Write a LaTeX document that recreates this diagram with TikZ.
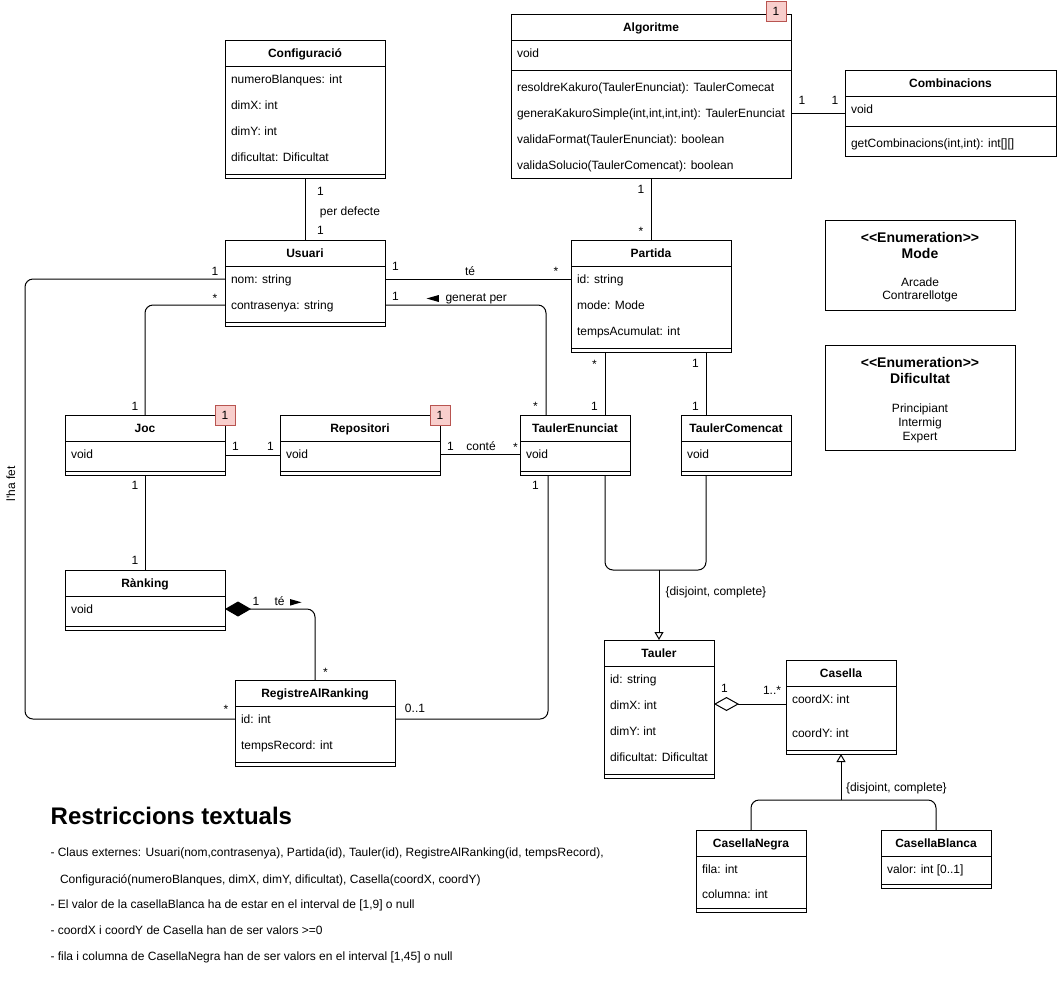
\documentclass[tikz,border=0pt]{standalone}
\usepackage{fontspec}
\setmainfont{Liberation Sans}[Ligatures=TeXOff]
\usetikzlibrary{arrows.meta,calc}

\definecolor{badgefill}{HTML}{F8CECC}
\definecolor{badgeline}{HTML}{B85450}

\tikzset{
  conn/.style={draw=black, line width=1pt},
  clsframe/.style={draw=black, line width=1pt, fill=white, inner sep=0pt, outer sep=0pt},
  txt/.style={font=\fontsize{12}{14}\selectfont, inner sep=0pt, outer sep=0pt,
              text height=10.86pt, text depth=2.54pt},
  ttl/.style={txt, font=\fontsize{12}{14}\selectfont\bfseries},
  enumttl/.style={font=\fontsize{14}{16}\selectfont\bfseries, inner sep=0pt, outer sep=0pt,
              text height=12.67pt, text depth=2.97pt},
  badge/.style={draw=badgeline, fill=badgefill, line width=1pt, minimum width=20pt,
                minimum height=20pt, inner sep=0pt, outer sep=0pt,
                font=\fontsize{12}{14}\selectfont},
  enumbox/.style={draw=black, line width=1pt, inner sep=0pt, outer sep=0pt, anchor=north west},
  dirmark/.style={fill=black, draw=none},
}

% class box: name, left, top, width, height, title
\newcommand{\clsbox}[6]{%
  \node[clsframe, minimum width=#4pt, minimum height=#5pt, anchor=north west] (#1) at (#2,#3) {};
  \draw[conn] ($(#1.north west)+(0,26)$) -- ($(#1.north east)+(0,26)$);
  \node[ttl] (#1-title) at ($(#1.north)+(0,13)$) {#6};
}
% separator line at an offset below the top of a class box
\newcommand{\clssep}[2]{%
  \draw[conn] ($(#1.north west)+(0,#2)$) -- ($(#1.north east)+(0,#2)$);
}
% one text row of a class box
\newcommand{\clsrow}[3]{%
  \node[txt, anchor=west] at ($(#1.north west)+(6,#2)$) {#3};
}

\begin{document}
\begin{tikzpicture}[x=1pt,y=-1pt]
\useasboundingbox (0,0) rectangle (1057,1002);

% ---------- classes ----------
\clsbox{config}{225}{40}{160}{138}{Configuració}
\clsrow{config}{39}{numeroBlanques: int}
\clsrow{config}{65}{dimX: int}
\clsrow{config}{91}{dimY: int}
\clsrow{config}{117}{dificultat: Dificultat}
\clssep{config}{134}

\clsbox{usuari}{225}{240}{160}{86}{Usuari}
\clsrow{usuari}{39}{nom: string}
\clsrow{usuari}{65}{contrasenya: string}
\clssep{usuari}{82}

\clsbox{alg}{511}{14}{280}{164}{Algoritme}
\clsrow{alg}{39}{void}
\clssep{alg}{56}
\clsrow{alg}{73}{resoldreKakuro(TaulerEnunciat): TaulerComecat}
\clsrow{alg}{99}{generaKakuroSimple(int,int,int,int): TaulerEnunciat}
\clsrow{alg}{125}{validaFormat(TaulerEnunciat): boolean}
\clsrow{alg}{151}{validaSolucio(TaulerComencat): boolean}

\clsbox{comb}{845}{70}{211}{86}{Combinacions}
\clsrow{comb}{39}{void}
\clssep{comb}{56}
\clsrow{comb}{73}{getCombinacions(int,int): int[][]}

\clsbox{partida}{571}{240}{160}{112}{Partida}
\clsrow{partida}{39}{id: string}
\clsrow{partida}{65}{mode: Mode}
\clsrow{partida}{91}{tempsAcumulat: int}
\clssep{partida}{108}

\clsbox{joc}{65}{415}{160}{60}{Joc}
\clsrow{joc}{39}{void}
\clssep{joc}{56}

\clsbox{repo}{280}{415}{160}{60}{Repositori}
\clsrow{repo}{39}{void}
\clssep{repo}{56}

\clsbox{tenun}{520}{415}{110}{60}{TaulerEnunciat}
\clsrow{tenun}{39}{void}
\clssep{tenun}{56}

\clsbox{tcom}{681}{415}{110}{60}{TaulerComencat}
\clsrow{tcom}{39}{void}
\clssep{tcom}{56}

\clsbox{rank}{65}{570}{160}{60}{Rànking}
\clsrow{rank}{39}{void}
\clssep{rank}{56}

\clsbox{reg}{235}{680}{160}{86}{RegistreAlRanking}
\clsrow{reg}{39}{id: int}
\clsrow{reg}{65}{tempsRecord: int}
\clssep{reg}{82}

\clsbox{tauler}{604}{640}{110}{138}{Tauler}
\clsrow{tauler}{39}{id: string}
\clsrow{tauler}{65}{dimX: int}
\clsrow{tauler}{91}{dimY: int}
\clsrow{tauler}{117}{dificultat: Dificultat}
\clssep{tauler}{134}

\clsbox{casella}{786}{660}{110}{94}{Casella}
\clsrow{casella}{39}{coordX: int}
\clsrow{casella}{73}{coordY: int}
\clssep{casella}{90}

\clsbox{cnegra}{696}{830}{110}{82}{CasellaNegra}
\clsrow{cnegra}{39}{fila: int}
\clsrow{cnegra}{64}{columna: int}
\clssep{cnegra}{78}

\clsbox{cblanca}{881}{830}{110}{58}{CasellaBlanca}
\clsrow{cblanca}{39}{valor: int [0..1]}
\clssep{cblanca}{54}

% ---------- singleton badges ----------
\node[badge] (alg-badge) at (776,11) {1};
\node[badge] (joc-badge) at (225,415) {1};
\node[badge] (repo-badge) at (440,415) {1};

% ---------- enumerations ----------
\node[enumbox, minimum width=190pt, minimum height=90pt] (mode) at (825,220) {};
\node[enumttl] (mode-st) at (920,237.5) {<<Enumeration>>};
\node[enumttl] (mode-nm) at (920,253.5) {Mode};
\node[txt] (mode-a) at (920,282) {Arcade};
\node[txt] (mode-b) at (920,295.5) {Contrarellotge};

\node[enumbox, minimum width=190pt, minimum height=105pt] (dific) at (825,345) {};
\node[enumttl] (dific-st) at (920,363) {<<Enumeration>>};
\node[enumttl] (dific-nm) at (920,379) {Dificultat};
\node[txt] (dific-a) at (920,408) {Principiant};
\node[txt] (dific-b) at (920,422) {Intermig};
\node[txt] (dific-c) at (920,436) {Expert};

% ---------- associations ----------
% Configuració - Usuari
\draw[conn] (config.south) -- (usuari.north);
\node[txt] at (320.5,191) {1};
\node[txt] at (350,211) {per defecte};
\node[txt] at (320.5,230) {1};

% Algoritme - Combinacions
\draw[conn] ($(alg.north east)+(0,99)$) -- ($(comb.north west)+(0,43)$);
\node[txt] at (802,100) {1};
\node[txt] at (835,100) {1};

% Algoritme - Partida
\draw[conn] (alg.south) -- (partida.north);
\node[txt] at (641,189) {1};
\node[txt] at (641,231.5) {*};

% Usuari - Partida
\draw[conn] ($(usuari.north east)+(0,39)$) -- ($(partida.north west)+(0,39)$);
\node[txt] at (395.5,266) {1};
\node[txt] at (470,271) {té};
\node[txt] at (556,271) {*};

% Usuari - TaulerEnunciat
\draw[conn, rounded corners=8pt] ($(usuari.north east)+(0,65)$) -| ($(tenun.north west)+(26,0)$);
\node[txt] at (395.5,296) {1};
\fill[dirmark] (438.8,295) -- (426.6,298.5) -- (438.8,302) -- cycle;
\node[txt, anchor=west] at (445.5,297) {generat per};
\node[txt] at (535.5,406.5) {*};

% Usuari - RegistreAlRanking
\coordinate (lhf) at (25,500);
\draw[conn, rounded corners=8pt] ($(usuari.north west)+(0,39)$) -| (lhf) |- ($(reg.north west)+(0,39)$);
\node[txt] at (215,271) {1};
\node[txt] at (226,709) {*};
\node[txt, rotate=90] at (11,484) {l'ha fet};

% Usuari - Joc
\draw[conn, rounded corners=8pt] ($(usuari.north west)+(0,65)$) -| (joc.north);
\node[txt] at (215,298) {*};
\node[txt] at (135,406) {1};

% Joc - Repositori
\draw[conn] ($(joc.north east)+(0,40)$) -- ($(repo.north west)+(0,40)$);
\node[txt] at (235.5,446) {1};
\node[txt] at (270.5,446) {1};

% Repositori - TaulerEnunciat
\draw[conn] ($(repo.north east)+(0,39)$) -- ($(tenun.north west)+(0,39)$);
\node[txt] at (450.5,446) {1};
\node[txt] at (481,446) {conté};
\node[txt] at (515.5,447) {*};

% Joc - Rànking
\draw[conn] (joc.south) -- (rank.north);
\node[txt] at (135,485) {1};
\node[txt] at (135,560) {1};

% Rànking - RegistreAlRanking (composition)
\draw[conn, rounded corners=8pt, {Diamond[length=26pt,width=15pt]}-]
  ($(rank.north east)+(0,39)$) -| (reg.north);
\node[txt] at (256,601) {1};
\node[txt, anchor=west] at (274.5,601) {té};
\fill[dirmark] (290,599) -- (301.5,602.3) -- (290,605.6) -- cycle;
\node[txt] at (325.5,672) {*};

% TaulerEnunciat - RegistreAlRanking
\draw[conn, rounded corners=8pt] ($(tenun.south west)+(28,0)$) |- ($(reg.north east)+(0,39)$);
\node[txt] at (535.5,485) {1};
\node[txt] at (415,708) {0..1};

% Partida - TaulerEnunciat / TaulerComencat
\draw[conn] ($(partida.south west)+(34,0)$) -- ($(tenun.north west)+(85,0)$);
\node[txt] at (594.5,364) {*};
\node[txt] at (594.5,406) {1};
\draw[conn] ($(partida.south west)+(135,0)$) -- ($(tcom.north west)+(25,0)$);
\node[txt] at (695.5,363) {1};
\node[txt] at (695.5,406) {1};

% generalization of Tauler
\coordinate (tj) at (659,570);
\draw[conn, rounded corners=8pt] ($(tenun.south west)+(85,0)$) |- (tj) -| ($(tcom.south west)+(25,0)$);
\draw[conn, -{Triangle[open,length=8pt,width=9pt]}] (tj) -- (tauler.north);
\node[txt, anchor=west] at (665.5,591) {\{disjoint, complete\}};

% Tauler - Casella (aggregation)
\draw[conn, {Diamond[open,length=25pt,width=14pt]}-]
  ($(tauler.north east)+(0,64)$) -- ($(casella.north west)+(0,44)$);
\node[txt] at (724.5,688) {1};
\node[txt] at (772,690) {1..*};

% generalization of Casella
\coordinate (cj) at (841,800);
\draw[conn, rounded corners=8pt] (cnegra.north) |- (cj) -| (cblanca.north);
\draw[conn, -{Triangle[open,length=8pt,width=9pt]}] (cj) -- (casella.south);
\node[txt, anchor=west] at (846,787) {\{disjoint, complete\}};

% ---------- textual constraints ----------
\node[anchor=base west, inner sep=0pt, font=\fontsize{24}{28}\selectfont\bfseries] (rt-head) at (50.5,824) {Restriccions textuals};
\node[txt, anchor=west] (rt-1) at (50.5,852.5) {- Claus externes: Usuari(nom,contrasenya), Partida(id), Tauler(id), RegistreAlRanking(id, tempsRecord),};
\node[txt, anchor=west] (rt-2) at (60,879) {Configuració(numeroBlanques, dimX, dimY, dificultat), Casella(coordX, coordY)};
\node[txt, anchor=west] (rt-3) at (50.5,904.5) {- El valor de la casellaBlanca ha de estar en el interval de [1,9] o null};
\node[txt, anchor=west] (rt-4) at (50.5,930.5) {- coordX i coordY de Casella han de ser valors >=0};
\node[txt, anchor=west] (rt-5) at (50.5,956) {- fila i columna de CasellaNegra han de ser valors en el interval [1,45] o null};

\end{tikzpicture}
\end{document}
